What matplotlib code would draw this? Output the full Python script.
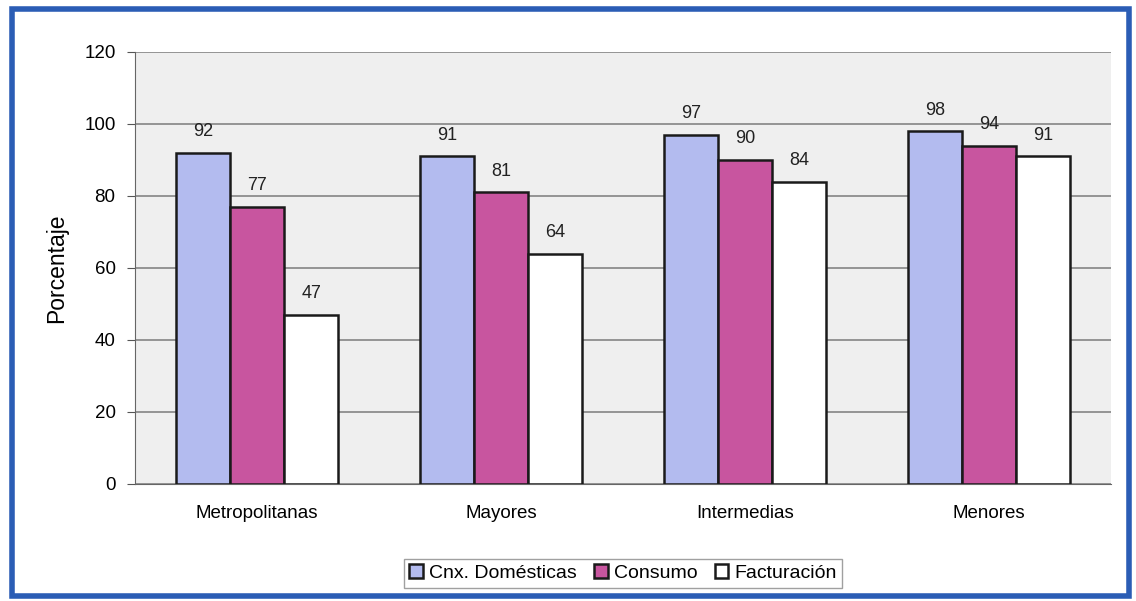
import matplotlib.pyplot as plt
import matplotlib.patches as mpatches
import numpy as np

plt.rcParams['font.family'] = ['Liberation Sans', 'DejaVu Sans']

categorias = ['Metropolitanas', 'Mayores', 'Intermedias', 'Menores']
series = ['Cnx. Domésticas', 'Consumo', 'Facturación']
cnx = [92, 91, 97, 98]
consumo = [77, 81, 90, 94]
facturacion = [47, 64, 84, 91]
yticks = [0, 20, 40, 60, 80, 100, 120]

colores = ['#b3bbef', '#c8559f', '#ffffff']

fig = plt.figure(figsize=(11.36, 6.01), dpi=100)
ax = fig.add_axes([0.1188, 0.1947, 0.8592, 0.7188])

# blue frame around the whole chart
fig.patches.append(mpatches.Rectangle((0.011, 0.008), 0.983, 0.977, transform=fig.transFigure,
                                      fill=False, edgecolor='#2b5db5', linewidth=4))

x = np.arange(len(categorias))
w = 0.222
for i, (vals, col, nombre) in enumerate(zip([cnx, consumo, facturacion], colores, series)):
    pos = x + (i - 1) * w
    ax.bar(pos, vals, width=w, color=col, edgecolor='#1a1a1a', linewidth=1.8,
           label=nombre, zorder=3)
    for px, v in zip(pos, vals):
        ax.text(px, v + 3.5, str(v), ha='center', va='bottom', fontsize=13, color='#222222')

ax.set_xlim(-0.5, len(categorias) - 0.5)
ax.set_ylim(0, 120)
ax.set_yticks(yticks)
ax.set_xticks(x)
ax.set_xticklabels(categorias, fontsize=13.5)
ax.tick_params(axis='y', labelsize=13.5, length=6, pad=8, color='#555555')
ax.tick_params(axis='x', length=0, pad=15)
ax.set_facecolor('#efefef')
ax.grid(axis='y', color='#858585', linewidth=1.2, zorder=0)
for s in ['top', 'right']:
    ax.spines[s].set_visible(False)
ax.spines['left'].set_color('#666666')
ax.spines['bottom'].set_color('#666666')
ax.set_ylabel('Porcentaje', fontsize=16.5)
ax.yaxis.set_label_coords(-0.068, 0.5)

leg = ax.legend(loc='upper center', bbox_to_anchor=(0.5, -0.15), ncol=3, fontsize=14,
                frameon=True, fancybox=False, edgecolor='#888888', handlelength=0.7,
                handleheight=0.7, handletextpad=0.3, columnspacing=0.9, borderpad=0.3)
leg.get_frame().set_linewidth(1.0)

fig.savefig('out.png', dpi=100, facecolor='white')
